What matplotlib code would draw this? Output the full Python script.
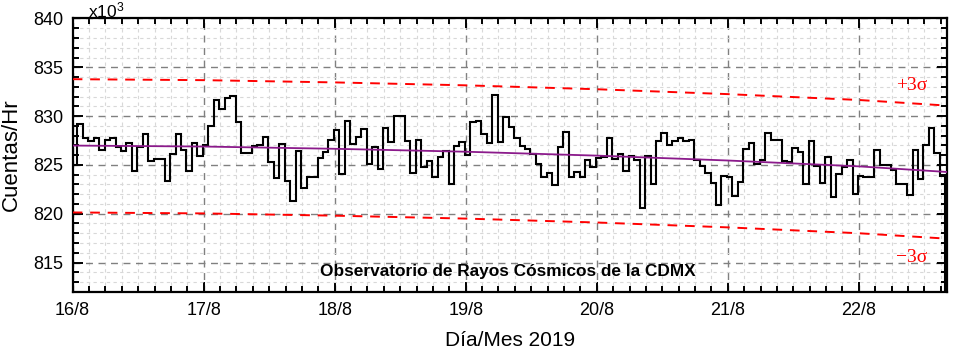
import numpy as np
import matplotlib.pyplot as plt
from matplotlib.ticker import MultipleLocator

plt.rcParams['font.family'] = ['Liberation Sans', 'DejaVu Sans']
plt.rcParams['mathtext.default'] = 'regular'

# cuentas por hora (x10^3), desde 16/8 00:00
cuentas = [825.0, 829.2, 827.8, 827.4, 827.8, 826.5, 827.6, 827.8, 826.8, 826.4,
           827.2, 824.4, 826.8, 828.2, 825.4, 825.6, 825.6, 823.4, 826.1, 828.2,
           826.5, 824.4, 827.2, 825.9, 827.0, 829.0, 831.6, 830.7, 831.9, 832.1,
           829.4, 826.2, 826.2, 826.9, 827.0, 827.9, 825.3, 823.7, 827.1, 823.4,
           821.3, 826.4, 822.6, 823.8, 823.8, 825.7, 826.3, 827.5, 828.6, 824.1,
           829.5, 827.1, 827.9, 828.7, 825.1, 826.8, 824.6, 828.8, 827.3, 830.0,
           830.0, 827.4, 824.2, 827.5, 824.8, 825.4, 823.8, 825.8, 826.4, 823.0,
           826.9, 827.3, 826.0, 829.4, 829.5, 828.2, 827.2, 832.2, 827.3, 829.9,
           828.9, 827.8, 826.9, 826.6, 826.1, 825.1, 823.8, 824.2, 822.9, 826.8,
           828.4, 823.8, 824.3, 823.8, 825.5, 824.8, 825.7, 825.8, 827.8, 825.6,
           826.1, 824.4, 825.9, 825.5, 820.6, 825.9, 823.0, 827.4, 828.3, 827.0,
           827.4, 827.8, 827.4, 827.6, 825.5, 824.9, 824.2, 823.1, 820.9, 823.9,
           823.8, 821.8, 823.2, 826.6, 827.2, 825.1, 825.5, 828.3, 827.6, 827.6,
           825.4, 825.3, 826.7, 826.3, 823.0, 827.4, 824.9, 823.1, 825.8, 821.7,
           824.1, 824.8, 825.5, 822.0, 823.9, 823.8, 823.8, 826.5, 825.0, 825.0,
           824.5, 823.0, 823.0, 821.9, 826.5, 823.6, 827.0, 828.8, 826.2, 823.9]

t_nodos = [0, 24, 48, 72, 96, 120, 144, 160]
tendencia = [826.98, 826.88, 826.65, 826.35, 825.95, 825.45, 824.85, 824.28]
banda_sup = [833.78, 833.68, 833.45, 833.15, 832.75, 832.25, 831.65, 831.08]
banda_inf = [820.13, 820.03, 819.80, 819.50, 819.10, 818.60, 818.00, 817.45]

dias = ['16/8', '17/8', '18/8', '19/8', '20/8', '21/8', '22/8']

fig = plt.figure(figsize=(9.55, 3.55), dpi=100)
ax = fig.add_axes([0.0761, 0.178, 0.9152, 0.77])

bordes = np.arange(len(cuentas) + 1) - 0.15
ax.stairs(cuentas, bordes, color='black', lw=1.5, zorder=3)
ax.plot(t_nodos, tendencia, color='#8B1A8B', lw=1.3, zorder=4)
ax.plot(t_nodos, banda_sup, color='red', lw=1.4, ls=(0, (5, 4)), zorder=4)
ax.plot(t_nodos, banda_inf, color='red', lw=1.4, ls=(0, (5, 4)), zorder=4)

ax.set_xlim(0, 160.1)
ax.set_ylim(812, 840)
ax.set_xticks(np.arange(len(dias)) * 24)
ax.set_xticklabels(dias)
ax.xaxis.set_minor_locator(MultipleLocator(3))
ax.yaxis.set_major_locator(MultipleLocator(5))
ax.yaxis.set_minor_locator(MultipleLocator(1))

ax.grid(which='major', color='#808080', lw=1.0, ls=(0, (5, 4)))
ax.grid(which='minor', color='#d8d8d8', lw=0.8, ls=(0, (3, 3)))
ax.set_axisbelow(True)

ax.tick_params(which='both', direction='in', top=True, right=True,
               width=1.4, labelsize=13, pad=7)
ax.tick_params(which='major', length=7)
ax.tick_params(which='minor', length=4)
for s in ax.spines.values():
    s.set_linewidth(1.6)

ax.set_ylabel('Cuentas/Hr', fontsize=16, labelpad=8)
ax.set_xlabel('Día/Mes 2019', fontsize=15, labelpad=9)

ax.text(0.017, 1.004, 'x10$^3$', transform=ax.transAxes, fontsize=12.5,
        ha='left', va='baseline')
ax.text(0.498, 0.075, 'Observatorio de Rayos Cósmicos de la CDMX',
        transform=ax.transAxes, fontsize=12.4, fontweight='bold',
        ha='center', va='center')
ax.text(0.96, 0.755, '+3σ', transform=ax.transAxes, color='red',
        fontsize=14, family=['Liberation Serif', 'DejaVu Serif'],
        ha='center', va='center')
ax.text(0.96, 0.125, '\u22123σ', transform=ax.transAxes, color='red',
        fontsize=14, family=['Liberation Serif', 'DejaVu Serif'],
        ha='center', va='center')

fig.savefig('out.png', dpi=100)
